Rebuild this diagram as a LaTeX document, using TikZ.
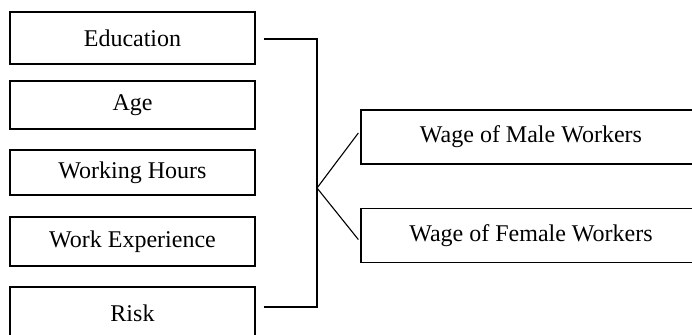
\documentclass[tikz,border=0pt]{standalone}
\usepackage{fontspec}
\setmainfont{Liberation Serif}
\usetikzlibrary{positioning}
\tikzset{
    mybox/.style={draw=black,line width=0.65pt,minimum width=122.5pt,inner sep=0pt},
    wagebox/.style={draw=black,line width=0.65pt,minimum width=170pt,minimum height=27pt,inner sep=0pt},
    myline/.style={line width=0.55pt,draw=black},
    every node/.style={font=\fontsize{12}{14}\selectfont}
}
\begin{document}
\begin{tikzpicture}[x=0.5pt,y=-0.5pt]
  \useasboundingbox (0,0) rectangle (692,334);
  \clip (0,0) rectangle (692,334);

  % 影响因素
  \node[mybox,minimum height=26pt]   (edu)  at (132.5,38)  {Education};
  \node[mybox,minimum height=24pt]   (age)  at (132.5,105) {Age};
  \node[mybox,minimum height=22.5pt] (hour) at (132.5,172.5) {Working Hours};
  \node[mybox,minimum height=24.5pt] (exp)  at (132.5,241.5) {Work Experience};
  \node[mybox,minimum height=26pt]   (risk) at (132.5,313) {Risk};

  % 工资
  \node[wagebox] (male)   at (531,137)   {Wage of Male Workers};
  \node[wagebox] (female) at (531,235.5) {Wage of Female Workers};

  % 汇合点
  \coordinate (jn) at (317,188);

  \draw[myline] ([xshift=4pt,yshift=-0.5pt]edu.east) -| (jn);
  \draw[myline] ([xshift=4pt,yshift=3pt]risk.east) -| (jn);
  \draw[myline] (jn) -- ([xshift=-1pt,yshift=2pt]male.west);
  \draw[myline] (jn) -- ([xshift=-1pt,yshift=-2pt]female.west);
\end{tikzpicture}
\end{document}
